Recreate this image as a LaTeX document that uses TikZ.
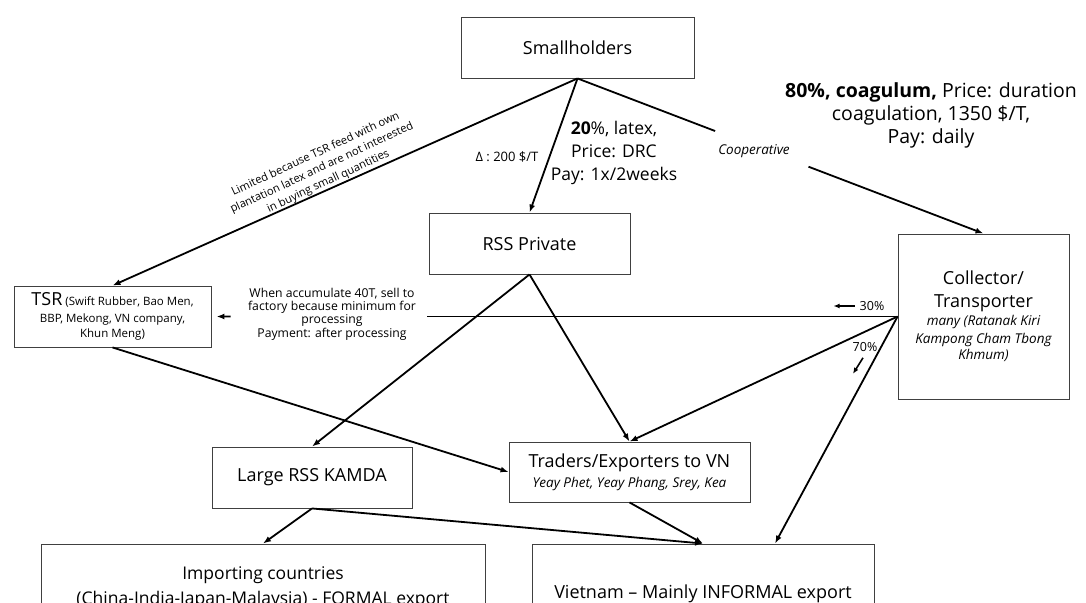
\documentclass[tikz,border=0pt]{standalone}
\usepackage{fontspec}
\setmainfont{Open Sans}
\usetikzlibrary{arrows.meta,calc}
% small italic note set inside a box
\newcommand{\boxnote}[1]{{\itshape\fontsize{13.5}{16}\selectfont #1}}
\begin{document}
\begin{tikzpicture}[x=1pt,y=-1pt,
  box/.style={draw=black!75, line width=0.9pt, rectangle, inner sep=0pt, align=center,
    font=\fontsize{18}{23}\selectfont},
  flow/.style={line width=1.8pt, -{Latex[length=8pt,width=6pt]}},
  plain/.style={line width=1.8pt},
  hint/.style={line width=1.6pt, -{Latex[length=6pt,width=5pt]}},
  biglabel/.style={align=center, inner sep=0pt, font=\fontsize{17.5}{23}\selectfont},
  smalllabel/.style={align=center, inner sep=0pt, font=\fontsize{12.2}{13.4}\selectfont},
]
\useasboundingbox (0,0) rectangle (1086,602);
\clip (0,0) rectangle (1086,602);

% actors
\node[box, minimum width=233pt, minimum height=61pt] (sm) at (577.5,47.5) {Smallholders};
\node[box, minimum width=201pt, minimum height=61pt] (rss) at (529.5,243.5) {RSS Private};
\node[box, minimum width=197pt, minimum height=61pt, font=\fontsize{11.5}{15}\selectfont] (tsr) at (112.5,316.5)
  {{\fontsize{18}{18}\selectfont TSR} (Swift Rubber, Bao Men,\\[2pt]BBP, Mekong, VN company,\\Khun Meng)};
\node[box, minimum width=171pt, minimum height=165pt] (col) at (983.5,316.5)
  {Collector/\\Transporter\\[-5pt]\boxnote{many (Ratanak Kiri}\\[-5pt]\boxnote{Kampong Cham Tbong}\\[-7pt]\boxnote{Khmum)}};
\node[box, minimum width=200pt, minimum height=61pt] (kamda) at (312,477.5) {Large RSS KAMDA};
\node[box, minimum width=241pt, minimum height=60pt] (traders) at (629.5,472)
  {Traders/Exporters to VN\\[-3pt]\boxnote{Yeay Phet, Yeay Phang, Srey, Kea}};
\node[box, minimum width=444pt, minimum height=88pt, font=\fontsize{17.5}{25}\selectfont] (imp) at (263,588)
  {Importing countries\\(China-India-Japan-Malaysia) - FORMAL export};
\node[box, minimum width=342pt, minimum height=100pt] (viet) at (703,594) {Vietnam – Mainly INFORMAL export};

% flows from the smallholders
\draw[flow] (sm.south) -- (tsr.north);
\draw[flow] (sm.south) -- (rss.north);
\draw[plain] (sm.south) -- ($(sm.south)!0.339!(col.north)$);
\draw[flow] ($(sm.south)!0.569!(col.north)$) -- (col.north);

% collector flows
\draw[plain] (col.west) -- ($(col.west)!0.686!(tsr.east)$);
\draw[flow, shorten >=5pt] ($(col.west)!0.972!(tsr.east)$) -- (tsr.east);
\draw[flow] (col.west) -- (traders.north);
\draw[flow] (col.west) -- ([xshift=72pt]viet.north);

% processors and traders
\draw[flow] (rss.south) -- (kamda.north);
\draw[flow] (rss.south) -- (traders.north);
\draw[flow] (tsr.south) -- (traders.west);
\draw[flow] (kamda.south) -- (imp.north);
\draw[flow] (kamda.south) -- (viet.north);
\draw[flow] (traders.south) -- (viet.north);

% labels
\node[smalllabel, rotate=25, font=\fontsize{11.2}{15}\selectfont] (lim) at (322,168)
  {Limited because TSR feed with own\\plantation latex and are not interested\\in buying small quantities};
\node[smalllabel, font=\fontsize{13}{14}\selectfont] (delta) at (507,157) {Δ : 200 \$/T};
\node[biglabel] (latex) at (614,153) {\textbf{20}\%, latex,\\Price: DRC\\Pay: 1x/2weeks};
\node[smalllabel, font=\itshape\fontsize{13.5}{14}\selectfont] (coop) at (754,151) {Cooperative};
\node[biglabel, font=\fontsize{19.5}{23}\selectfont] (coag) at (931,115)
  {\textbf{80\%, coagulum,} Price: duration\\coagulation, 1350 \$/T,\\Pay: daily};
\node[smalllabel] (accu) at (332,314)
  {When accumulate 40T, sell to\\factory because minimum for\\processing\\Payment: after processing};
\node[smalllabel, font=\fontsize{12.5}{14}\selectfont] (p30) at (872,306) {30\%};
\draw[hint] ([xshift=-5pt]p30.west) -- ++(-21,0);
\node[smalllabel, font=\fontsize{12.5}{14}\selectfont] (p70) at (865,347) {70\%};
\draw[hint] ([xshift=-2pt,yshift=-6pt]p70.south) -- ++(-10,16);
\end{tikzpicture}
\end{document}
